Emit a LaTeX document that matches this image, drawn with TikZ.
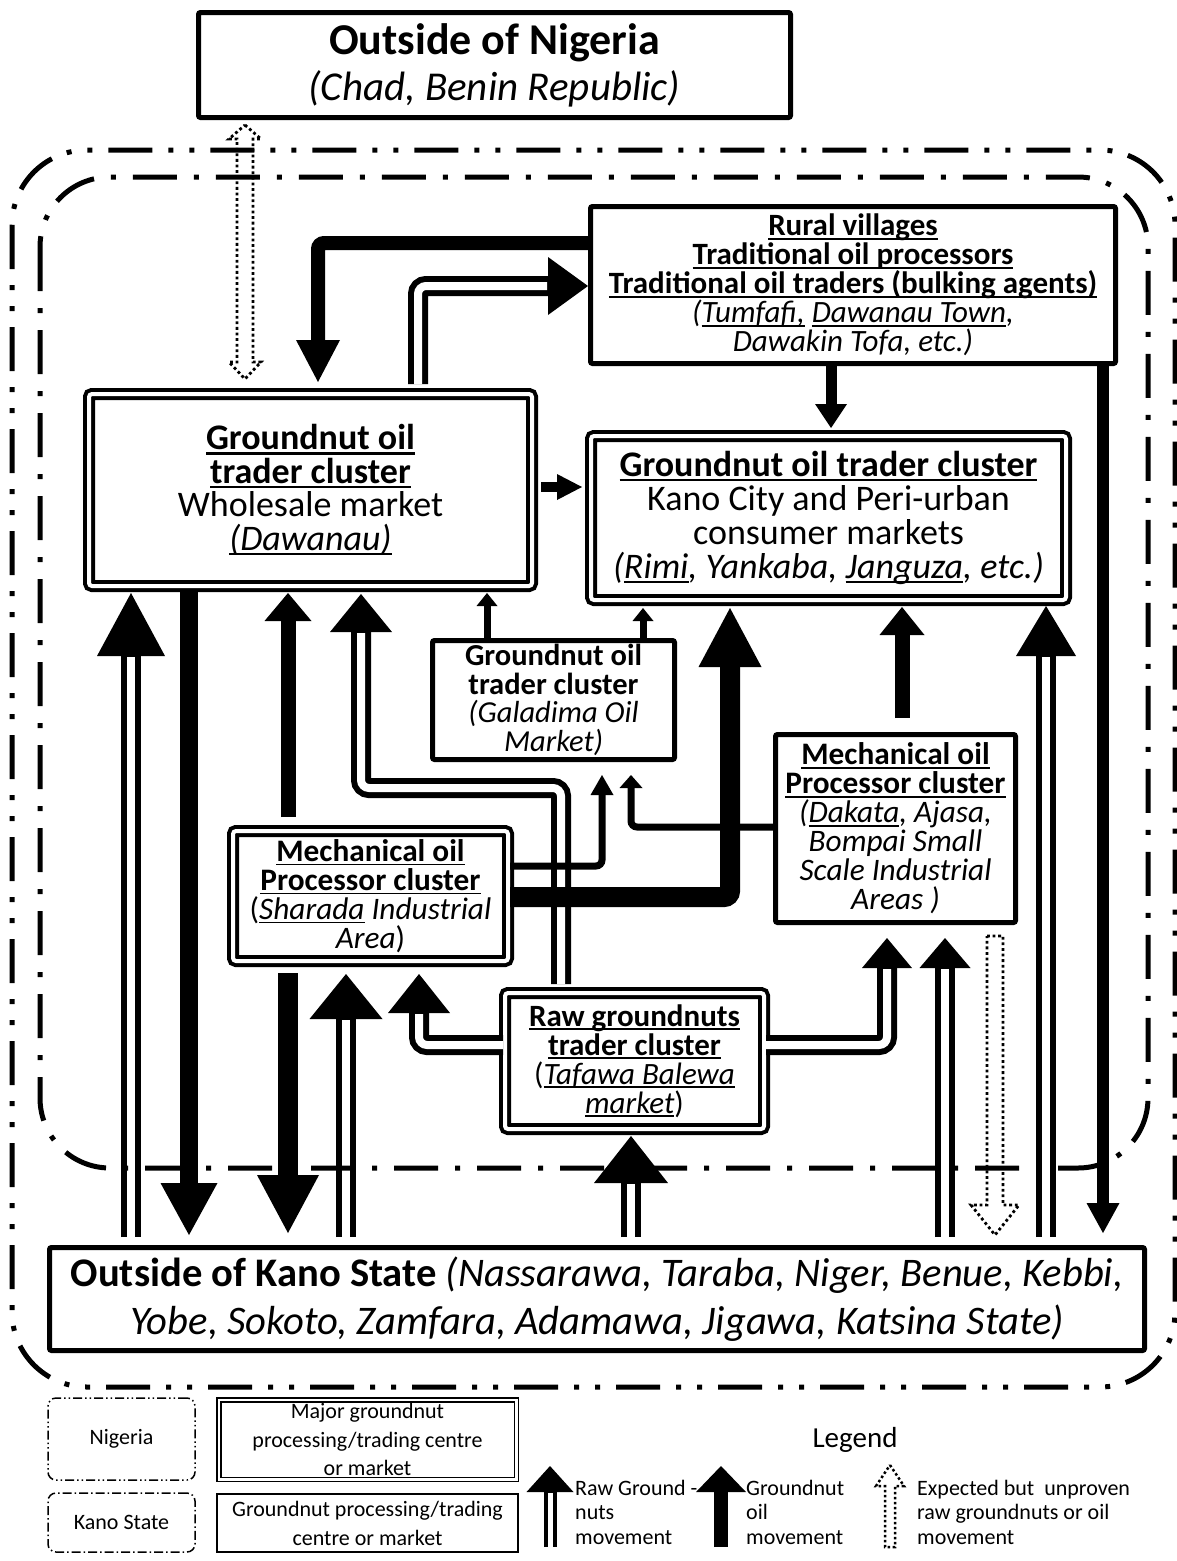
\documentclass[tikz,border=0pt]{standalone}
\usepackage{fontspec}
\setmainfont{Carlito}
\usetikzlibrary{arrows.meta,calc}
\newcommand\myul[1]{\setbox0=\hbox{#1}\rlap{\rule[-0.13em]{\wd0}{0.06em}}\box0\relax}
\newcommand\fsz[2]{\fontsize{#1}{#2}\selectfont\lineskiplimit=-100pt\relax}
\begin{document}
\begin{tikzpicture}[x=1pt,y=-1pt,
  box/.style={draw, line width=5pt, rounded corners=2pt, inner sep=0pt, align=center},
  dbox/.style={draw, line width=4pt, double=white, double distance=4pt, rounded corners=3pt, inner sep=0pt, align=center},
  oilarrow/.style n args={3}{draw, line width=#1, -{Triangle[width=#2,length=#3,line width=0pt]}, rounded corners=6pt},
  rawarrow/.style n args={3}{draw, line width=20pt, -{Triangle[width=#1,length=#2,line width=0pt]}, rounded corners=8pt, postaction={draw=white, line width=8pt, -, shorten >=#3}},
  rawsmall/.style n args={3}{draw, line width=13pt, -{Triangle[width=#1,length=#2,line width=0pt]}, postaction={draw=white, line width=5pt, -, shorten >=#3}},
  expect/.style={line width=2.8pt, dash pattern=on 2.8pt off 2.8pt},
  nigline/.style={line width=5pt, dash pattern=on 44pt off 16pt on 5pt off 16pt on 5pt off 16pt, rounded corners=75pt},
  kanoline/.style={line width=5pt, dash pattern=on 44pt off 17pt on 5pt off 17pt, rounded corners=70pt},
]
\fill[white] (0,0) rectangle (1176,1561);
\useasboundingbox (0,0) rectangle (1176,1561);

% ---------- nodes ----------
\node[box, minimum width=592pt, minimum height=105pt, font=\fsz{41}{46}] (top) at (494.5,65)
  {{\fsz{44}{46}\textbf{Outside of Nigeria}}\\\textit{(Chad, Benin Republic)}};

\node[box, minimum width=525pt, minimum height=157pt, font=\fsz{31}{29}] (rural) at (853,285)
  {\textbf{\myul{Rural villages}}\\
   \textbf{\myul{Traditional oil processors}}\\
   \textbf{\myul{Traditional oil traders (bulking agents)}}\\
   \textit{(\myul{Tumfafi,} \myul{Dawanau Town},}\\
   \textit{Dawakin Tofa, etc.)}};

\node[dbox, minimum width=443pt, minimum height=192pt, font=\fsz{36}{33.5}] (dawanau) at (310.5,490)
  {\textbf{\myul{Groundnut oil}}\\
   \textbf{\myul{trader cluster}}\\
   Wholesale market\\
   \textit{\myul{(Dawanau)}}};

\node[dbox, minimum width=475pt, minimum height=164pt, font=\fsz{36}{34}] (kanocity) at (828.5,518)
  {\textbf{\myul{Groundnut oil trader cluster}}\\
   Kano City and Peri-urban\\
   consumer markets\\
   \textit{(\myul{Rimi}, Yankaba, \myul{Janguza}, etc.)}};

\node[box, minimum width=242pt, minimum height=119pt, font=\fsz{30.5}{28.5}] (galadima) at (553.5,700)
  {\textbf{Groundnut oil}\\
   \textbf{trader cluster}\\
   \textit{(Galadima Oil}\\
   \textit{Market)}};

\node[dbox, minimum width=275pt, minimum height=130pt, font=\fsz{31.3}{29}] (sharada) at (370.5,896)
  {\textbf{\myul{Mechanical oil}}\\
   \textbf{\myul{Processor cluster}}\\
   (\textit{\myul{Sharada} Industrial}\\
   \textit{Area})};

\node[box, minimum width=240pt, minimum height=188pt, font=\fsz{31.3}{29}] (dakata) at (895.5,828.5)
  {\textbf{\myul{Mechanical oil}}\\
   \textbf{\myul{Processor cluster}}\\
   \textit{(\myul{Dakata}, Ajasa,}\\
   \textit{Bompai Small}\\
   \textit{Scale Industrial}\\
   \textit{Areas )}};

\node[dbox, minimum width=259pt, minimum height=136pt, font=\fsz{31}{29}] (rawbox) at (634.5,1061)
  {\textbf{\myul{Raw groundnuts}}\\
   \textbf{\myul{trader cluster}}\\
   (\myul{\textit{Tafawa Balewa}}\\
   \myul{\textit{market}})};

\node[box, minimum width=1095pt, minimum height=103pt, font=\fsz{40.6}{48}] (kanostate) at (597,1299)
  {\textbf{Outside of Kano State} \textit{(Nassarawa, Taraba, Niger, Benue, Kebbi,}\\
   \textit{Yobe, Sokoto, Zamfara, Adamawa, Jigawa, Katsina State)}};

% ---------- helper coordinates ----------
\coordinate (xA) at (245,0);  \coordinate (xB) at (318,0);  \coordinate (xC) at (418,0);
\coordinate (xD) at (831,0);  \coordinate (xE) at (1103,0); \coordinate (xG) at (131,0);
\coordinate (xH) at (189,0);  \coordinate (xI) at (288,0);  \coordinate (xU) at (346,0);
\coordinate (xJ) at (561,0);  \coordinate (xJb) at (361,0); \coordinate (xK) at (487,0);
\coordinate (xKb) at (643,0); \coordinate (xL) at (602,0);  \coordinate (xM) at (631,0);
\coordinate (xN) at (730,0);  \coordinate (xO) at (902,0);  \coordinate (xP) at (1046,0);
\coordinate (xQ) at (887,0);  \coordinate (xR) at (945,0);  \coordinate (xS) at (995,0);
\coordinate (xT) at (419,0);  \coordinate (xW) at (631,0);
\coordinate (yB) at (0,243);  \coordinate (yC) at (0,286);  \coordinate (yF) at (0,487);
\coordinate (yJ) at (0,788);  \coordinate (yL) at (0,866);  \coordinate (yM) at (0,827);
\coordinate (yN) at (0,897);  \coordinate (yQ) at (0,1045);

% ---------- raw groundnut movements ----------
\draw[rawarrow={62pt}{38pt}{39pt}] ($(rawbox.north -| xJ)+(0,-7)$) |- (xJb |- yJ) -- ($(dawanau.south -| xJb)+(0,6)$);
\draw[rawarrow={58pt}{40pt}{41pt}] ($(dawanau.north -| xC)+(0,-8)$) |- (rural.west |- yC);
\draw[rawarrow={68pt}{63pt}{64pt}] ($(kanostate.north -| xG)+(0,-8)$) -- ($(dawanau.south -| xG)+(0,5)$);
\draw[rawarrow={73pt}{45pt}{46pt}] ($(kanostate.north -| xU)+(0,-8)$) -- ($(sharada.south -| xU)+(0,11)$);
\draw[rawarrow={60pt}{50pt}{51pt}] ($(kanostate.north -| xP)+(0,-8)$) -- ($(kanocity.south -| xP)+(0,4)$);
\draw[rawarrow={50pt}{30pt}{31pt}] (rawbox.east |- yQ) -| ($(dakata.south -| xQ)+(0,13)$);
\draw[rawarrow={51pt}{30pt}{31pt}] ($(kanostate.north -| xR)+(0,-8)$) -- ($(dakata.south -| xR)+(0,13)$);
\draw[rawarrow={62pt}{39pt}{40pt}] (rawbox.west |- yQ) -| ($(sharada.south -| xT)+(0,11)$);
\draw[rawarrow={74pt}{47pt}{48pt}] ($(kanostate.north -| xW)+(0,-8)$) -- ($(rawbox.south -| xW)+(0,5)$);

% ---------- groundnut oil movements ----------
\draw[oilarrow={14pt}{44pt}{42pt}] (rural.west |- yB) -| ($(dawanau.north -| xB)+(0,-10)$);
\draw[oilarrow={11pt}{32pt}{24pt}] (rural.south -| xD) -- ($(kanocity.north -| xD)+(0,-6)$);
\draw[oilarrow={12pt}{33pt}{30pt}] (rural.south -| xE) -- ($(kanostate.north -| xE)+(0,-12)$);
\draw[oilarrow={10pt}{26pt}{25pt}] ($(dawanau.east |- yF)+(7,0)$) -- ($(kanocity.west |- yF)+(-7,0)$);
\draw[oilarrow={18pt}{57pt}{52pt}] ($(dawanau.south -| xH)+(0,4)$) -- ($(kanostate.north -| xH)+(0,-10)$);
\draw[oilarrow={15pt}{47pt}{28pt}] ($(sharada.north -| xI)+(0,-12)$) -- ($(dawanau.south -| xI)+(0,5)$);
\draw[oilarrow={20pt}{62pt}{58pt}] ($(sharada.south -| xI)+(0,10)$) -- ($(kanostate.north -| xI)+(0,-12)$);
\draw[oilarrow={7pt}{21pt}{13pt}] (galadima.north -| xK) -- ($(dawanau.south -| xK)+(0,5)$);
\draw[oilarrow={7pt}{21pt}{13pt}] (galadima.north -| xKb) -- ($(kanocity.south -| xKb)+(0,6)$);
\draw[oilarrow={7pt}{23pt}{20pt}] (sharada.east |- yL) -| ($(galadima.south -| xL)+(0,13)$);
\draw[oilarrow={7pt}{23pt}{13pt}] (dakata.west |- yM) -| ($(galadima.south -| xM)+(0,13)$);
\draw[oilarrow={20pt}{63pt}{59pt}] (sharada.east |- yN) -| ($(kanocity.south -| xN)+(0,6)$);
\draw[oilarrow={15pt}{45pt}{28pt}] ($(dakata.north -| xO)+(0,-14)$) -- ($(kanocity.south -| xO)+(0,5)$);

% ---------- expected but unproven ----------
\draw[expect] ($(top.south -| xA)+(0,5)$) -- ++(16,14) -- ++(-8,0) -- ++(0,223) -- ++(8,0) -- ++(-16,17)
  -- ++(-16,-17) -- ++(8,0) -- ++(0,-223) -- ++(-8,0) -- cycle;
\draw[expect] ($(dakata.south -| xS)+(-8,11)$) -- ++(16,0) -- ++(0,269) -- ++(16,0) -- ++(-24,30)
  -- ++(-24,-30) -- ++(16,0) -- cycle;

% ---------- boundaries ----------
\draw[nigline] (12,150) rectangle (1175,1387);
\draw[kanoline] (40,177) rectangle (1148,1168);

% ---------- legend ----------
\node[draw, line width=1.5pt, dash pattern=on 9pt off 3pt on 1.5pt off 3pt on 1.5pt off 3pt, rounded corners=8pt,
  minimum width=147pt, minimum height=82pt, inner sep=0pt, font=\fsz{22}{27}] (legnig) at (121.5,1439) {Nigeria};
\node[draw, line width=1.5pt, dash pattern=on 9pt off 3pt on 1.5pt off 3pt, rounded corners=8pt,
  minimum width=147pt, minimum height=59pt, inner sep=0pt, font=\fsz{22}{27}] (legkano) at (121.5,1522.5) {Kano State};
\node[draw, line width=1.5pt, double=white, double distance=2.5pt, minimum width=297.5pt, minimum height=79.5pt,
  inner sep=0pt, align=center, font=\fsz{22}{28.5}] (legmajor) at (367.5,1439.5)
  {Major groundnut\\processing/trading centre\\or market};
\node[draw, line width=2pt, minimum width=301pt, minimum height=58pt, inner sep=0pt, align=center,
  font=\fsz{22}{29}] (leggp) at (367.5,1523) {Groundnut processing/trading\\centre or market};
\node[font=\fsz{29}{33}] (legtitle) at (855,1440) {Legend};

\coordinate (lr1) at (550,1547); \coordinate (lr2) at (550,1466);
\draw[rawsmall={47pt}{26pt}{27pt}] (lr1) -- (lr2);
\node[anchor=west, align=left, inner sep=0pt, font=\fsz{22}{24.5}] (legrawtxt) at (575,1512) {Raw Ground -\\nuts\\movement};

\coordinate (lo1) at (721,1547); \coordinate (lo2) at (721,1466);
\draw[oilarrow={14pt}{50pt}{26pt}] (lo1) -- (lo2);
\node[anchor=west, align=left, inner sep=0pt, font=\fsz{22}{24.5}] (legoiltxt) at (746,1512) {Groundnut\\oil\\movement};

\coordinate (ld) at (890,1465);
\draw[expect, line width=2.5pt, dash pattern=on 2.5pt off 2.5pt] (ld) -- ++(14,21) -- ++(-9,0) -- ++(0,61) -- ++(-10,0) -- ++(0,-61) -- ++(-9,0) -- cycle;
\node[anchor=west, align=left, inner sep=0pt, font=\fsz{22}{24.5}] (legexptxt) at (917,1512) {Expected but\ \ unproven\\raw groundnuts or oil\\movement};
\end{tikzpicture}
\end{document}
